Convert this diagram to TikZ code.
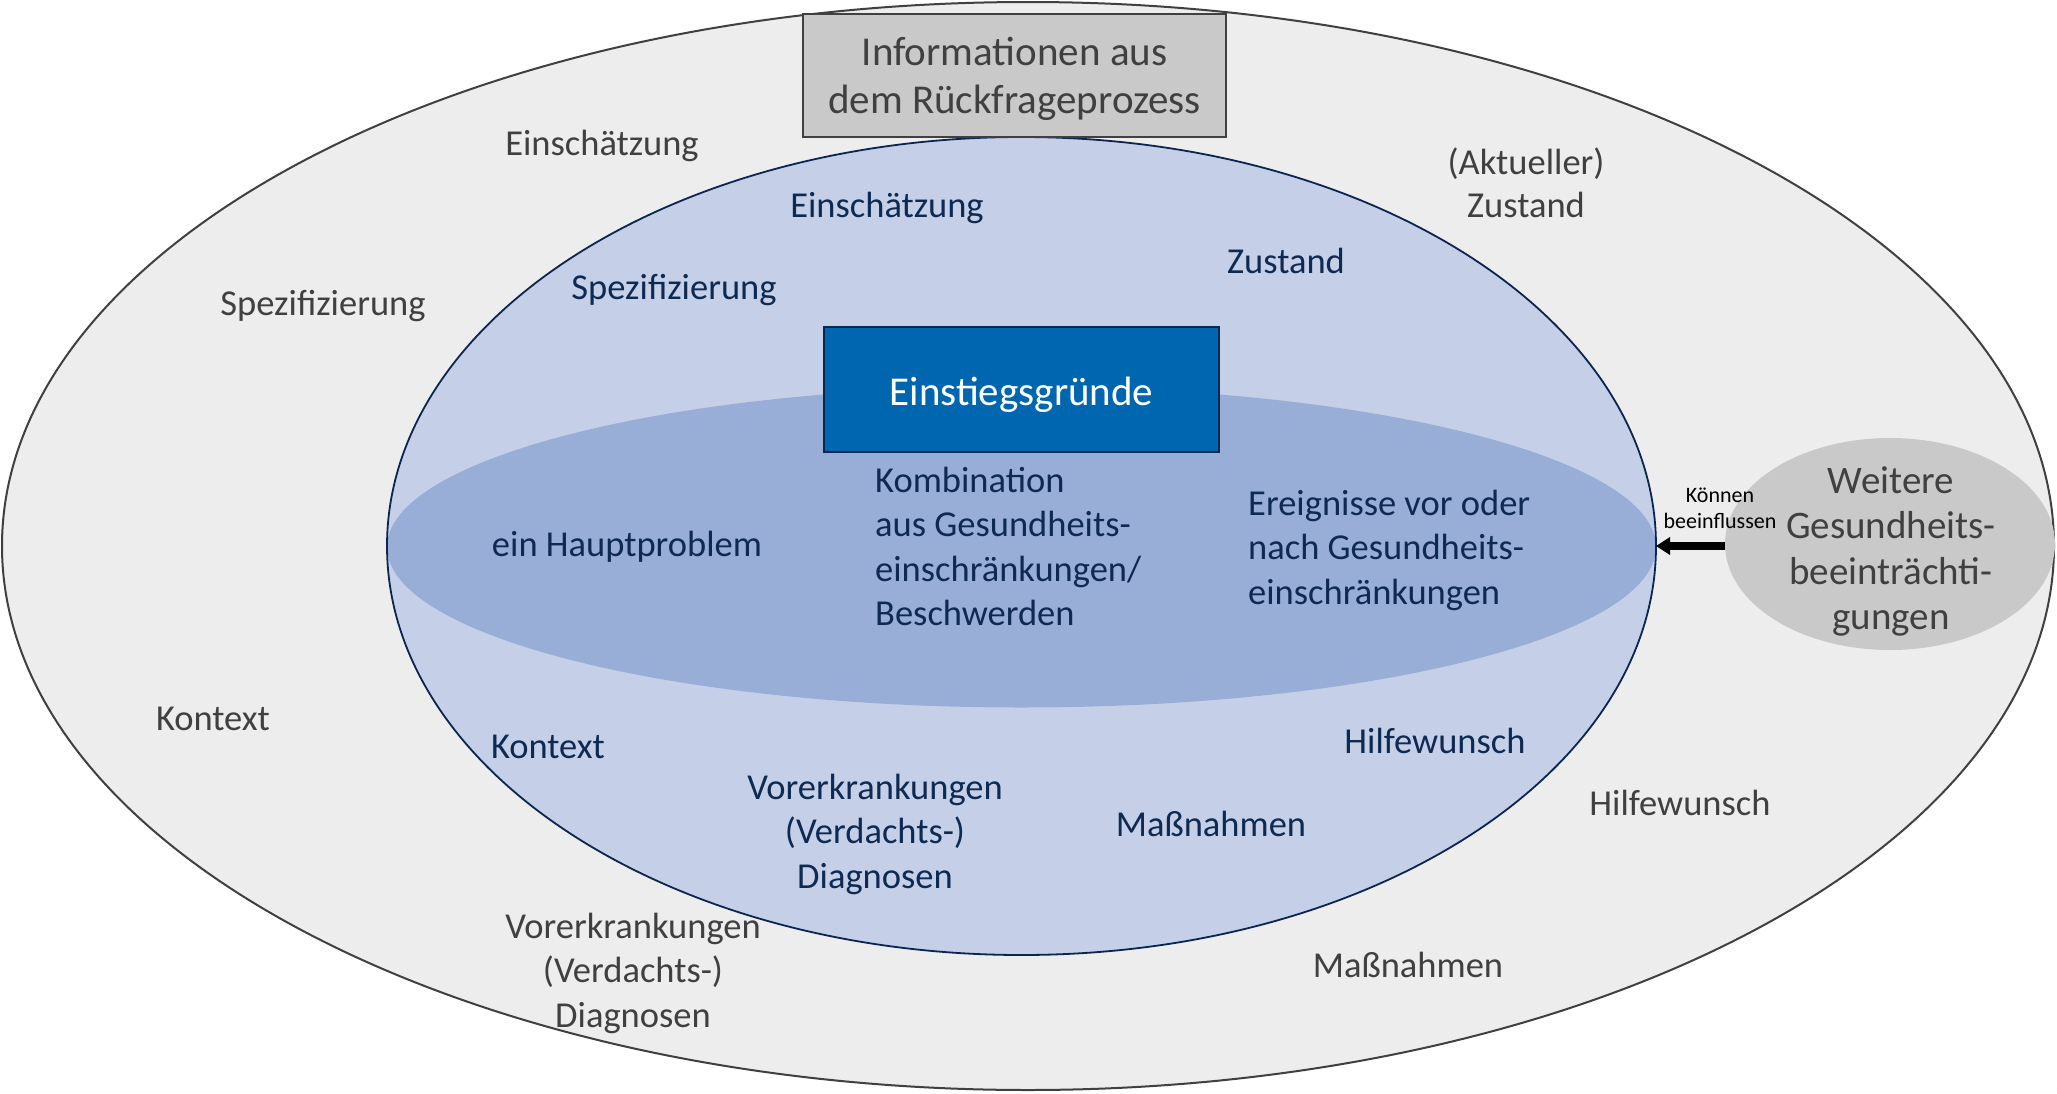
\documentclass[tikz,border=0pt]{standalone}
\usepackage{fontspec}
\setmainfont{Carlito}
\usetikzlibrary{shapes.geometric,arrows.meta}
\definecolor{outerfill}{HTML}{EDEDED}
\definecolor{outerline}{HTML}{404040}
\definecolor{grayfill}{HTML}{C8C9C8}
\definecolor{innerfill}{HTML}{C5D0E8}
\definecolor{flatfill}{HTML}{98AED6}
\definecolor{navyline}{HTML}{0B2550}
\definecolor{bluebox}{HTML}{0066B0}
\definecolor{graytext}{HTML}{404040}
\definecolor{navytext}{HTML}{0F2A52}
\begin{document}
\begin{tikzpicture}[x=1pt,y=-1pt,
  ell/.style={ellipse, inner sep=0pt, outer sep=0pt},
  lbl/.style={font=\fontsize{36.5}{44.5}\selectfont, inner sep=0pt, anchor=north, align=center},
  outerlbl/.style={lbl, text=graytext},
  innerlbl/.style={lbl, text=navytext},
  bigfont/.style={font=\fontsize{41}{48}\selectfont}
 ]
\useasboundingbox (0,0) rectangle (2057,1093);
% ellipses
\node[ell, fill=outerfill, draw=outerline, line width=2pt, minimum width=2052pt, minimum height=1088pt] (outer) at (1028,546) {};
\node[ell, fill=innerfill, minimum width=1269pt, minimum height=818pt] (inner) at (1021.5,546) {};
\node[ell, fill=flatfill, minimum width=1269pt, minimum height=321pt] (flat) at (1021.5,547) {};
\draw[navyline, line width=1.8pt] (inner.center) ellipse [x radius=634.5, y radius=409];
% boxes
\node[draw=outerline, fill=grayfill, line width=2pt, minimum width=423pt, minimum height=123pt, inner sep=0pt] (info) at (1014.5,75.5) {};
\node[inner sep=0pt, anchor=north, align=center, bigfont, text=graytext] (infotxt) at (1014.5,31.4) {\strut Informationen aus\\dem Rückfrageprozess};
\node[draw=navyline, fill=bluebox, line width=2.5pt, minimum width=395pt, minimum height=125pt, inner sep=0pt, bigfont, text=white, text height=36pt, text depth=4pt] (einstieg) at (1021.5,389.5) {Einstiegsgründe};
% further impairments
\node[ell, fill=grayfill, minimum width=330pt, minimum height=212pt] (weitere) at (1890,544) {};
\node[inner sep=0pt, anchor=north, align=center, font=\fontsize{39}{45.5}\selectfont, text=graytext] (weiteretxt) at (1891,461.15) {\strut Weitere\\Gesundheits-\\beeinträchti-\\gungen};
\draw[black, line width=8pt, -{Triangle[length=14pt,width=17pt]}] (weitere.west |- inner.east) -- (inner.east);
\node[inner sep=0pt, anchor=north, align=center, font=\fontsize{22}{26}\selectfont, text=black] (koennen) at (1720,483.8) {\strut Können\\beeinflussen};
% outer labels
\node[outerlbl] (o1) at (602,123.85) {\strut Einschätzung};
\node[outerlbl] (o2) at (323,283.85) {\strut Spezifizierung};
\node[outerlbl] (o3) at (213,698.85) {\strut Kontext};
\node[outerlbl] (o4) at (633,906.85) {\strut Vorerkrankungen\\(Verdachts-)\\Diagnosen};
\node[outerlbl] (o5) at (1408,945.85) {\strut Maßnahmen};
\node[outerlbl] (o6) at (1680,783.85) {\strut Hilfewunsch};
\node[outerlbl, font=\fontsize{36.5}{43}\selectfont] (o7) at (1526,143.9) {\strut (Aktueller)\\Zustand};
% inner labels
\node[innerlbl] (i1) at (887,185.85) {\strut Einschätzung};
\node[innerlbl] (i2) at (674,267.85) {\strut Spezifizierung};
\node[innerlbl] (i3) at (1286,241.85) {\strut Zustand};
\node[innerlbl] (i4) at (627,524.85) {\strut ein Hauptproblem};
\node[innerlbl, anchor=north west, align=left] (i5) at (875,460.85) {\strut Kombination\\aus Gesundheits-\\einschränkungen/\\Beschwerden};
\node[innerlbl, anchor=north west, align=left] (i6) at (1248,483.85) {\strut Ereignisse vor oder\\nach Gesundheits-\\einschränkungen};
\node[innerlbl] (i7) at (548,726.85) {\strut Kontext};
\node[innerlbl] (i8) at (875,767.85) {\strut Vorerkrankungen\\(Verdachts-)\\Diagnosen};
\node[innerlbl] (i9) at (1211,804.85) {\strut Maßnahmen};
\node[innerlbl] (i10) at (1435,721.85) {\strut Hilfewunsch};
\end{tikzpicture}
\end{document}
